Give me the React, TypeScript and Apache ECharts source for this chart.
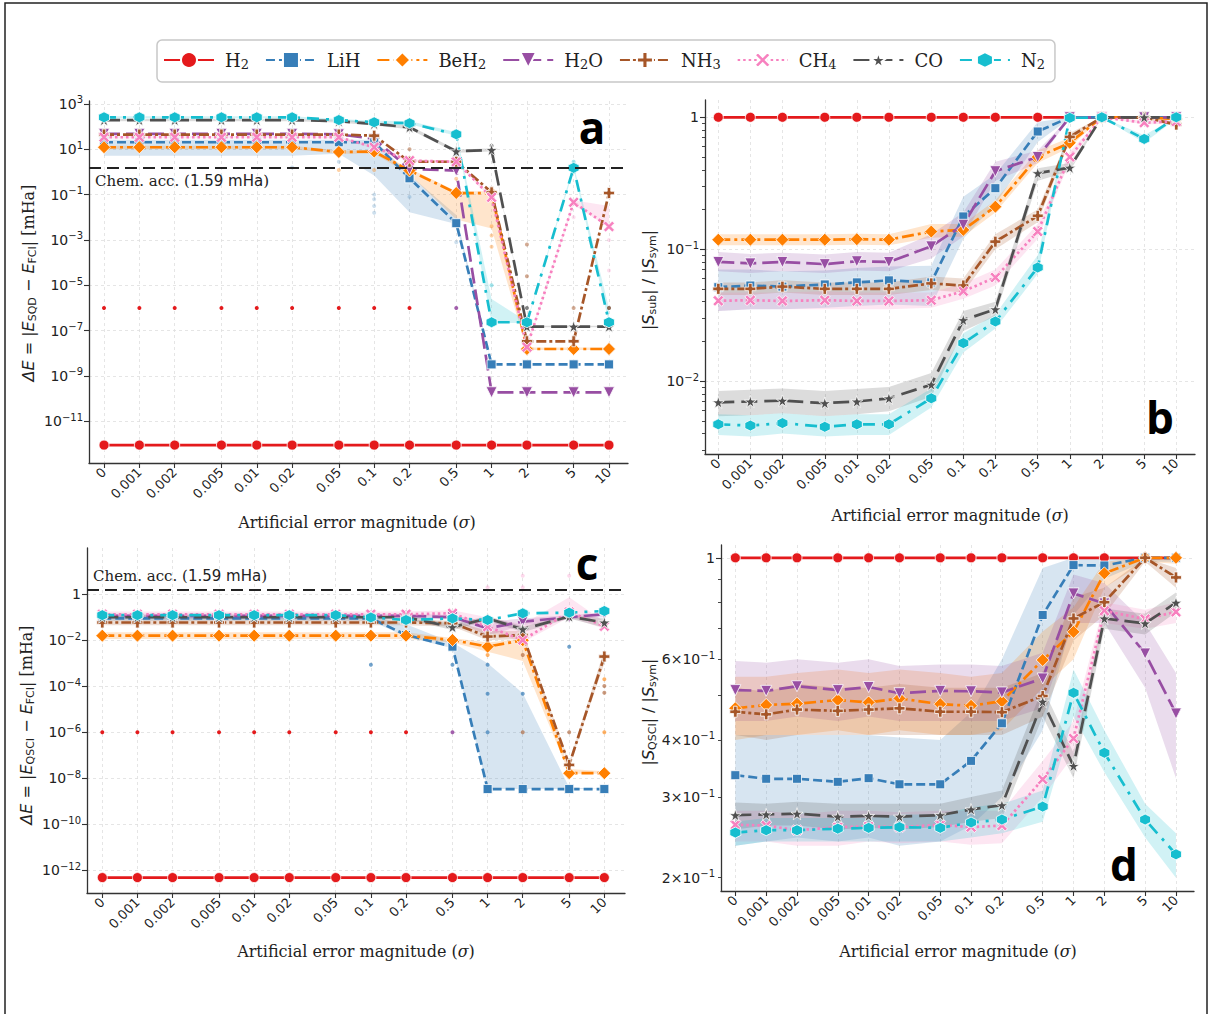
import React, { useEffect, useRef } from 'react';
import * as echarts from 'echarts';

// ---------- shared axis data ----------
const SIGMA = [0, 0.001, 0.002, 0.005, 0.01, 0.02, 0.05, 0.1, 0.2, 0.5, 1, 2, 5, 10];
const SIGMA_LABELS = ['0', '0.001', '0.002', '0.005', '0.01', '0.02', '0.05', '0.1', '0.2', '0.5', '1', '2', '5', '10'];
const MOLECULES = ['H2', 'LiH', 'BeH2', 'H2O', 'NH3', 'CH4', 'CO', 'N2'];
const CHEM_ACC = 1.59; // mHa
const ZERO_POS = 0.0005; // where sigma = 0 sits on the log-like x scale

// ---------- panel a : log10(ΔE_SQD / mHa) ----------
const aH2 = [-12.05, -12.05, -12.05, -12.05, -12.05, -12.05, -12.05, -12.05, -12.05, -12.05, -12.05, -12.05, -12.05, -12.05];
const aLiH = [1.31, 1.31, 1.31, 1.31, 1.31, 1.31, 1.31, 1.31, -0.28, -2.26, -8.49, -8.49, -8.49, -8.49];
const aBeH2 = [1.09, 1.09, 1.09, 1.09, 1.09, 1.09, 0.88, 0.9, 0.06, -0.93, -0.93, -7.81, -7.81, -7.81];
const aH2O = [1.68, 1.68, 1.68, 1.68, 1.68, 1.68, 1.66, 1.46, 0.13, 0.06, -9.72, -9.72, -9.72, -9.72];
const aNH3 = [1.65, 1.65, 1.65, 1.65, 1.65, 1.65, 1.65, 1.6, 0.45, 0.45, -0.9, -7.47, -7.47, -0.93];
const aCH4 = [1.53, 1.53, 1.53, 1.53, 1.53, 1.53, 1.53, 1.09, 0.5, 0.45, -1.12, -7.73, -1.34, -2.41];
const aCO = [2.29, 2.29, 2.29, 2.29, 2.29, 2.29, 2.24, 2.12, 1.97, 0.91, 0.97, -6.82, -6.82, -6.82];
const aN2 = [2.41, 2.41, 2.41, 2.41, 2.41, 2.41, 2.29, 2.19, 2.15, 1.66, -6.63, -6.63, 0.18, -6.63];

const aLiH_lo = [0.72, 0.72, 0.72, 0.72, 0.72, 0.72, 0.8, -0.16, -1.78, -2.3, -8.49, -8.49, -8.49, -8.49];
const aLiH_hi = [1.42, 1.42, 1.42, 1.42, 1.42, 1.42, 1.42, 1.42, -0.12, -1.9, -8.49, -8.49, -8.49, -8.49];
const aBeH2_lo = [1.0, 1.0, 1.0, 1.0, 1.0, 1.0, 0.8, 0.8, -0.1, -2.1, -2.5, -7.85, -7.85, -7.85];
const aBeH2_hi = [1.16, 1.16, 1.16, 1.16, 1.16, 1.16, 0.95, 0.95, 0.15, -0.85, -0.85, -7.75, -7.75, -7.75];
const aCH4_lo = [1.48, 1.48, 1.48, 1.48, 1.48, 1.48, 1.48, 1.03, 0.45, 0.4, -1.2, -7.8, -1.45, -2.45];
const aCH4_hi = [1.58, 1.58, 1.58, 1.58, 1.58, 1.58, 1.58, 1.15, 0.55, 0.5, -1.05, -7.65, -1.25, -1.5];
const aCO_lo = [2.24, 2.24, 2.24, 2.24, 2.24, 2.24, 2.18, 2.05, 1.88, 0.85, 0.9, -6.85, -6.85, -6.85];
const aCO_hi = [2.34, 2.34, 2.34, 2.34, 2.34, 2.34, 2.3, 2.2, 2.05, 0.98, 1.05, -6.78, -6.78, -6.78];
const aN2_lo = [2.36, 2.36, 2.36, 2.36, 2.36, 2.36, 2.25, 2.15, 2.1, 1.6, -6.66, -6.66, 0.1, -6.66];
const aN2_hi = [2.46, 2.46, 2.46, 2.46, 2.46, 2.46, 2.34, 2.26, 2.25, 1.75, -5.6, -6.6, 0.3, -6.0];

// individual runs, [sigma, log10 ΔE]
const aRunsH2 = [[0, -6], [0.001, -6], [0.002, -6], [0.005, -6], [0.01, -6], [0.02, -6], [0.05, -6], [0.1, -6], [0.2, -6]];
const aRunsH2O = [[0.5, -6]];
const aRunsCO = [[2, -6], [10, -6], [1, 1.16]];
const aRunsNH3 = [[5, -6], [10, -6], [2, -3.2], [2, -4.6], [0.2, 1.0]];
const aRunsLiH = [[0.1, -1.0], [0.1, -1.2], [0.1, -1.5], [0.1, -1.8], [0.2, -1.1], [0.5, -3.1], [0.05, 0.45], [0.02, 0.2]];
const aRunsBeH2 = [[0.05, 0.09], [0.1, 0.09], [1, -2.4], [1, -2.8], [1, -3.3], [0.5, -0.3]];
const aRunsCH4 = [[10, -4.35], [5, -2.0], [10, -3.0]];
const aRunsN2 = [[0.5, 0.8], [1, -5.0], [5, 0.45]];

// ---------- panel b : |S_sub| / |S_sym| ----------
const bH2 = [1, 1, 1, 1, 1, 1, 1, 1, 1, 1, 1, 1, 1, 1];
const bLiH = [0.0515, 0.053, 0.052, 0.054, 0.056, 0.058, 0.056, 0.177, 0.29, 0.78, 1, 1, 1, 1];
const bBeH2 = [0.118, 0.118, 0.118, 0.118, 0.119, 0.118, 0.136, 0.14, 0.21, 0.5, 0.64, 1, 1, 0.97];
const bH2O = [0.08, 0.078, 0.08, 0.077, 0.081, 0.08, 0.105, 0.153, 0.39, 0.5, 1, 1, 1, 1];
const bNH3 = [0.05, 0.05, 0.052, 0.05, 0.05, 0.05, 0.055, 0.053, 0.114, 0.179, 0.71, 1, 1, 0.88];
const bCH4 = [0.0406, 0.041, 0.0405, 0.041, 0.0405, 0.0405, 0.041, 0.048, 0.061, 0.136, 0.5, 1, 0.91, 0.93];
const bCO = [0.0069, 0.007, 0.0071, 0.0068, 0.007, 0.0074, 0.0094, 0.029, 0.035, 0.377, 0.415, 1, 1, 1];
const bN2 = [0.0047, 0.0046, 0.0048, 0.0045, 0.0047, 0.0047, 0.0074, 0.0194, 0.0283, 0.0726, 0.99, 1, 0.685, 1];

const bLiH_lo = [0.034, 0.035, 0.035, 0.036, 0.037, 0.038, 0.037, 0.12, 0.22, 0.65, 0.98, 1, 1, 1];
const bLiH_hi = [0.07, 0.07, 0.068, 0.069, 0.072, 0.074, 0.075, 0.25, 0.37, 0.92, 1, 1, 1, 1];
const bBeH2_lo = [0.107, 0.107, 0.107, 0.107, 0.108, 0.107, 0.122, 0.125, 0.19, 0.45, 0.59, 1, 1, 0.95];
const bBeH2_hi = [0.13, 0.13, 0.13, 0.13, 0.131, 0.13, 0.155, 0.155, 0.235, 0.56, 0.7, 1, 1, 1];
const bH2O_lo = [0.068, 0.066, 0.068, 0.066, 0.069, 0.068, 0.085, 0.125, 0.33, 0.45, 1, 1, 1, 1];
const bH2O_hi = [0.095, 0.092, 0.094, 0.091, 0.095, 0.094, 0.13, 0.19, 0.46, 0.56, 1, 1, 1, 1];
const bNH3_lo = [0.045, 0.045, 0.047, 0.045, 0.045, 0.045, 0.049, 0.047, 0.1, 0.16, 0.66, 1, 0.98, 0.85];
const bNH3_hi = [0.056, 0.056, 0.058, 0.056, 0.056, 0.056, 0.062, 0.06, 0.13, 0.2, 0.76, 1, 1, 0.92];
const bCH4_lo = [0.034, 0.035, 0.035, 0.035, 0.035, 0.035, 0.036, 0.042, 0.053, 0.12, 0.46, 1, 0.88, 0.9];
const bCH4_hi = [0.047, 0.047, 0.047, 0.048, 0.047, 0.047, 0.047, 0.055, 0.07, 0.155, 0.55, 1, 0.94, 0.96];
const bCO_lo = [0.0054, 0.0055, 0.0057, 0.0054, 0.0056, 0.0059, 0.0076, 0.024, 0.031, 0.33, 0.39, 1, 1, 1];
const bCO_hi = [0.0084, 0.0086, 0.0088, 0.0084, 0.0087, 0.009, 0.0115, 0.034, 0.04, 0.41, 0.45, 1, 1, 1];
const bN2_lo = [0.0039, 0.0038, 0.004, 0.0038, 0.0039, 0.0039, 0.0063, 0.0165, 0.025, 0.065, 0.97, 1, 0.64, 0.97];
const bN2_hi = [0.0056, 0.0055, 0.0057, 0.0054, 0.0056, 0.0056, 0.0088, 0.023, 0.032, 0.09, 1, 1, 0.73, 1];

// ---------- panel c : log10(ΔE_QSCI / mHa) ----------
const cH2 = [-12.32, -12.32, -12.32, -12.32, -12.32, -12.32, -12.32, -12.32, -12.32, -12.32, -12.32, -12.32, -12.32, -12.32];
const cLiH = [-1.05, -1.05, -1.05, -1.05, -1.05, -1.05, -1.05, -1.05, -1.77, -2.28, -8.47, -8.47, -8.47, -8.47];
const cBeH2 = [-1.8, -1.8, -1.8, -1.8, -1.8, -1.8, -1.8, -1.8, -1.8, -1.99, -2.28, -2.0, -7.78, -7.78];
const cH2O = [-0.94, -0.94, -0.94, -0.94, -0.94, -0.94, -0.94, -0.94, -0.94, -1.0, -1.48, -1.19, -1.0, -0.87];
const cNH3 = [-1.23, -1.23, -1.23, -1.23, -1.23, -1.23, -1.23, -1.23, -1.23, -1.26, -1.84, -1.77, -7.42, -2.71];
const cCH4 = [-0.87, -0.87, -0.87, -0.87, -0.87, -0.87, -0.87, -0.87, -0.87, -0.83, -1.41, -1.99, -0.77, -1.39];
const cCO = [-1.0, -1.0, -1.0, -1.0, -1.0, -1.0, -1.0, -1.0, -1.0, -1.43, -1.05, -1.52, -0.97, -1.23];
const cN2 = [-0.91, -0.91, -0.91, -0.91, -0.91, -0.91, -0.91, -1.01, -1.12, -1.05, -1.12, -0.83, -0.8, -0.73];

const cLiH_lo = [-1.15, -1.15, -1.15, -1.15, -1.15, -1.15, -1.15, -1.15, -1.85, -2.35, -8.47, -8.47, -8.47, -8.47];
const cLiH_hi = [-0.95, -0.95, -0.95, -0.95, -0.95, -0.95, -0.95, -0.95, -1.3, -2.1, -3.0, -4.3, -8.4, -8.47];
const cBeH2_lo = [-1.95, -1.95, -1.95, -1.95, -1.95, -1.95, -1.95, -1.95, -1.95, -2.1, -2.5, -2.9, -7.8, -7.8];
const cBeH2_hi = [-1.65, -1.65, -1.65, -1.65, -1.65, -1.65, -1.65, -1.65, -1.65, -1.9, -2.1, -1.95, -7.6, -7.7];
const cH2O_lo = [-1.05, -1.05, -1.05, -1.05, -1.05, -1.05, -1.05, -1.05, -1.05, -1.1, -1.8, -1.35, -1.1, -1.0];
const cH2O_hi = [-0.85, -0.85, -0.85, -0.85, -0.85, -0.85, -0.85, -0.85, -0.85, -0.9, -1.2, -1.05, -0.9, -0.8];
const cNH3_lo = [-1.35, -1.35, -1.35, -1.35, -1.35, -1.35, -1.35, -1.35, -1.35, -1.4, -2.0, -1.95, -7.5, -3.0];
const cNH3_hi = [-1.1, -1.1, -1.1, -1.1, -1.1, -1.1, -1.1, -1.1, -1.1, -1.15, -1.6, -1.6, -7.3, -2.4];
const cCH4_lo = [-1.0, -1.0, -1.0, -1.0, -1.0, -1.0, -1.0, -1.0, -1.0, -0.95, -1.6, -2.1, -1.0, -1.5];
const cCH4_hi = [-0.75, -0.75, -0.75, -0.75, -0.75, -0.75, -0.75, -0.75, -0.75, -0.7, -1.0, -1.3, -0.13, -1.2];
const cCO_lo = [-1.1, -1.1, -1.1, -1.1, -1.1, -1.1, -1.1, -1.1, -1.1, -1.55, -1.15, -1.65, -1.05, -1.45];
const cCO_hi = [-0.9, -0.9, -0.9, -0.9, -0.9, -0.9, -0.9, -0.9, -0.9, -1.3, -0.95, -1.4, -0.9, -1.05];

const cRunsH2 = [[0, -6], [0.001, -6], [0.002, -6], [0.005, -6], [0.01, -6], [0.02, -6], [0.05, -6], [0.1, -6], [0.2, -6]];
const cRunsH2O = [[0.5, -6]];
const cRunsLiH = [[1, -6], [1, -3.07], [1, -4.33], [2, -4.33], [5, -2.28], [0.5, -3.07], [0.1, -3.07]];
const cRunsNH3 = [[2, -6], [5, -6], [10, -3.99], [10, -4.28], [2, -2.64]];
const cRunsBeH2 = [[10, -6], [1, -2.64], [10, -3.7]];
const cRunsCH4 = [[2, 0.8], [5, 0.8], [1, 0.3], [2, 0.3]];

// ---------- panel d : |S_QSCI| / |S_sym| ----------
const dH2 = [1, 1, 1, 1, 1, 1, 1, 1, 1, 1, 1, 1, 1, 1];
const dLiH = [0.335, 0.329, 0.329, 0.324, 0.33, 0.32, 0.32, 0.36, 0.435, 0.75, 0.964, 0.962, 1, 1];
const dBeH2 = [0.469, 0.477, 0.48, 0.489, 0.483, 0.493, 0.479, 0.475, 0.486, 0.598, 0.689, 0.925, 1, 1];
const dH2O = [0.514, 0.512, 0.524, 0.514, 0.522, 0.506, 0.512, 0.511, 0.508, 0.545, 0.836, 0.795, 0.618, 0.457];
const dNH3 = [0.461, 0.455, 0.466, 0.463, 0.466, 0.469, 0.461, 0.461, 0.46, 0.499, 0.737, 0.8, 1, 0.906];
const dCH4 = [0.261, 0.26, 0.254, 0.258, 0.259, 0.258, 0.261, 0.258, 0.26, 0.328, 0.403, 0.766, 0.735, 0.762];
const dCO = [0.274, 0.275, 0.276, 0.272, 0.273, 0.272, 0.274, 0.282, 0.288, 0.485, 0.351, 0.737, 0.719, 0.798];
const dN2 = [0.251, 0.254, 0.254, 0.256, 0.257, 0.258, 0.257, 0.264, 0.268, 0.286, 0.507, 0.375, 0.268, 0.225];

const dLiH_lo = [0.235, 0.24, 0.245, 0.24, 0.245, 0.235, 0.24, 0.26, 0.3, 0.42, 0.75, 0.9, 0.98, 0.98];
const dLiH_hi = [0.41, 0.41, 0.41, 0.41, 0.41, 0.405, 0.4, 0.46, 0.6, 0.95, 1.0, 1.0, 1.0, 1.0];
const dBeH2_lo = [0.4, 0.41, 0.41, 0.42, 0.41, 0.42, 0.41, 0.41, 0.42, 0.52, 0.6, 0.86, 0.98, 0.97];
const dBeH2_hi = [0.55, 0.55, 0.56, 0.57, 0.56, 0.57, 0.56, 0.55, 0.56, 0.69, 0.78, 0.98, 1.0, 1.0];
const dH2O_lo = [0.44, 0.44, 0.45, 0.44, 0.45, 0.44, 0.44, 0.44, 0.44, 0.47, 0.72, 0.72, 0.52, 0.33];
const dH2O_hi = [0.595, 0.59, 0.6, 0.59, 0.6, 0.58, 0.585, 0.585, 0.58, 0.62, 0.92, 0.88, 0.72, 0.56];
const dNH3_lo = [0.41, 0.4, 0.41, 0.41, 0.41, 0.41, 0.41, 0.41, 0.41, 0.45, 0.66, 0.75, 0.98, 0.86];
const dNH3_hi = [0.52, 0.51, 0.53, 0.52, 0.52, 0.53, 0.52, 0.52, 0.52, 0.56, 0.82, 0.86, 1.0, 0.95];
const dCH4_lo = [0.24, 0.24, 0.235, 0.235, 0.24, 0.238, 0.24, 0.236, 0.238, 0.3, 0.37, 0.72, 0.7, 0.72];
const dCH4_hi = [0.28, 0.28, 0.275, 0.28, 0.28, 0.278, 0.28, 0.28, 0.28, 0.36, 0.44, 0.8, 0.77, 0.8];
const dCO_lo = [0.255, 0.26, 0.26, 0.255, 0.257, 0.255, 0.258, 0.265, 0.27, 0.45, 0.33, 0.7, 0.68, 0.76];
const dCO_hi = [0.292, 0.29, 0.293, 0.29, 0.29, 0.29, 0.29, 0.3, 0.31, 0.52, 0.375, 0.775, 0.755, 0.84];
const dN2_lo = [0.235, 0.24, 0.24, 0.24, 0.24, 0.24, 0.24, 0.245, 0.25, 0.265, 0.45, 0.34, 0.245, 0.2];
const dN2_hi = [0.265, 0.27, 0.27, 0.27, 0.27, 0.275, 0.275, 0.285, 0.29, 0.31, 0.57, 0.42, 0.29, 0.25];

// ---------- tick values ----------
const A_TICKS = [-11, -9, -7, -5, -3, -1, 1, 3]; // log10 exponents
const B_TICKS = [0.01, 0.1, 1];
const B_MINOR = [0.003, 0.004, 0.005, 0.006, 0.007, 0.008, 0.009, 0.02, 0.03, 0.04, 0.05, 0.06, 0.07, 0.08, 0.09, 0.2, 0.3, 0.4, 0.5, 0.6, 0.7, 0.8, 0.9];
const C_TICKS = [-12, -10, -8, -6, -4, -2, 0];
const D_TICKS = [1];
const D_MINOR = [0.2, 0.3, 0.4, 0.5, 0.6, 0.7, 0.8, 0.9];
const D_LABELS = [0.2, 0.3, 0.4, 0.6, 1];

// ---------- styles ----------
const PLUS = 'path://M3.4,0H6.6V3.4H10V6.6H6.6V10H3.4V6.6H0V3.4H3.4Z';
const XMARK = 'path://M0,2L2,0L5,3L8,0L10,2L7,5L10,8L8,10L5,7L2,10L0,8L3,5Z';
const STAR = 'path://M5,0L6.18,3.62L10,3.62L6.91,5.85L8.09,9.47L5,7.24L1.91,9.47L3.09,5.85L0,3.62L3.82,3.62Z';
const HEX = 'path://M5,0L9.33,2.5L9.33,7.5L5,10L0.67,7.5L0.67,2.5Z';

const STYLE: any = {
  H2: { color: '#e41a1c', symbol: 'circle', size: 10, rotate: 0, dash: 'solid' },
  LiH: { color: '#377eb8', symbol: 'rect', size: 9, rotate: 0, dash: [9, 4] },
  BeH2: { color: '#ff7f00', symbol: 'diamond', size: 13, rotate: 0, dash: [12, 4, 3, 4] },
  H2O: { color: '#984ea3', symbol: 'triangle', size: 11, rotate: 180, dash: [16, 6] },
  NH3: { color: '#a65628', symbol: PLUS, size: 11, rotate: 0, dash: [10, 3, 3, 3] },
  CH4: { color: '#f781bf', symbol: XMARK, size: 11, rotate: 0, dash: [2.5, 3] },
  CO: { color: '#505050', symbol: STAR, size: 12, rotate: 0, dash: [16, 7] },
  N2: { color: '#17becf', symbol: HEX, size: 11, rotate: 0, dash: [12, 7, 3, 7] },
};

const LAYOUT = [
  { grid: { left: 89, top: 101, width: 539, height: 362 }, x: [-3.429, 1.162], y: [-12.84, 3.13] },
  { grid: { left: 705, top: 100, width: 490, height: 354 }, x: [-3.426, 1.176], y: [-2.553, 0.131] },
  { grid: { left: 87, top: 548, width: 538, height: 345 }, x: [-3.432, 1.177], y: [-12.99, 2.01] },
  { grid: { left: 721, top: 545, width: 473, height: 346 }, x: [-3.441, 1.176], y: [-0.728, 0.028] },
];

const xPos = (s: number) => Math.log10(s === 0 ? ZERO_POS : s);
const ident = (v: number) => v;
const lg = (v: number) => Math.log10(v);

const sup = (n: number) => (n < 0 ? '\u2212' : '') + Math.abs(n);
const decadeLabel = (v: number) => {
  const n = Math.round(v);
  return n === 0 ? '1' : '10{e|' + sup(n) + '}';
};
const dLabel = (v: number) => {
  if (Math.abs(v) < 1e-6) return '1';
  const m = Math.round(Math.pow(10, v) * 10);
  return m + '\u00d710{e|\u22121}';
};
const xLabel = (v: number) => {
  for (let i = 0; i < SIGMA.length; i++) if (Math.abs(xPos(SIGMA[i]) - v) < 1e-6) return SIGMA_LABELS[i];
  return '';
};

function bandSeries(pi: number, mol: string, lo: number[], hi: number[], toY: (v: number) => number) {
  const upper = SIGMA.map((s, i) => [xPos(s), toY(hi[i])]);
  const lower = SIGMA.map((s, i) => [xPos(s), toY(lo[i])]);
  const color = STYLE[mol].color;
  return {
    type: 'custom', name: 'band', xAxisIndex: pi, yAxisIndex: pi, silent: true, z: 1, clip: true,
    data: [upper[0]],
    encode: { x: 0, y: 1 },
    renderItem: (_params: any, api: any) => {
      const pts = upper.map((p) => api.coord(p)).concat(lower.slice().reverse().map((p) => api.coord(p)));
      return { type: 'polygon', shape: { points: pts }, style: { fill: color, opacity: 0.2 } };
    },
  };
}

function buildOption() {
  const panels = [
    {
      toY: ident,
      main: { H2: aH2, LiH: aLiH, BeH2: aBeH2, H2O: aH2O, NH3: aNH3, CH4: aCH4, CO: aCO, N2: aN2 },
      bands: { LiH: [aLiH_lo, aLiH_hi], BeH2: [aBeH2_lo, aBeH2_hi], CH4: [aCH4_lo, aCH4_hi], CO: [aCO_lo, aCO_hi], N2: [aN2_lo, aN2_hi] },
      runs: [
        ['H2', aRunsH2, 1], ['H2O', aRunsH2O, 0.9], ['CO', aRunsCO, 0.7], ['NH3', aRunsNH3, 0.5],
        ['LiH', aRunsLiH, 0.25], ['BeH2', aRunsBeH2, 0.35], ['CH4', aRunsCH4, 0.25], ['N2', aRunsN2, 0.4],
      ],
      chem: 'insideStartBottom',
    },
    {
      toY: lg,
      main: { H2: bH2, LiH: bLiH, BeH2: bBeH2, H2O: bH2O, NH3: bNH3, CH4: bCH4, CO: bCO, N2: bN2 },
      bands: { LiH: [bLiH_lo, bLiH_hi], BeH2: [bBeH2_lo, bBeH2_hi], H2O: [bH2O_lo, bH2O_hi], NH3: [bNH3_lo, bNH3_hi], CH4: [bCH4_lo, bCH4_hi], CO: [bCO_lo, bCO_hi], N2: [bN2_lo, bN2_hi] },
      runs: [],
      chem: null,
    },
    {
      toY: ident,
      main: { H2: cH2, LiH: cLiH, BeH2: cBeH2, H2O: cH2O, NH3: cNH3, CH4: cCH4, CO: cCO, N2: cN2 },
      bands: { LiH: [cLiH_lo, cLiH_hi], BeH2: [cBeH2_lo, cBeH2_hi], H2O: [cH2O_lo, cH2O_hi], NH3: [cNH3_lo, cNH3_hi], CH4: [cCH4_lo, cCH4_hi], CO: [cCO_lo, cCO_hi] },
      runs: [
        ['H2', cRunsH2, 1], ['H2O', cRunsH2O, 0.9], ['LiH', cRunsLiH, 0.7], ['NH3', cRunsNH3, 0.6],
        ['BeH2', cRunsBeH2, 0.6], ['CH4', cRunsCH4, 0.3],
      ],
      chem: 'insideStartTop',
    },
    {
      toY: lg,
      main: { H2: dH2, LiH: dLiH, BeH2: dBeH2, H2O: dH2O, NH3: dNH3, CH4: dCH4, CO: dCO, N2: dN2 },
      bands: { LiH: [dLiH_lo, dLiH_hi], BeH2: [dBeH2_lo, dBeH2_hi], H2O: [dH2O_lo, dH2O_hi], NH3: [dNH3_lo, dNH3_hi], CH4: [dCH4_lo, dCH4_hi], CO: [dCO_lo, dCO_hi], N2: [dN2_lo, dN2_hi] },
      runs: [],
      chem: null,
    },
  ];

  const series: any[] = [];
  panels.forEach((p: any, pi) => {
    Object.keys(p.bands).forEach((mol) => {
      const [lo, hi] = p.bands[mol];
      series.push(bandSeries(pi, mol, lo, hi, p.toY));
    });
    p.runs.forEach(([mol, pts, op]: any) => {
      series.push({
        type: 'scatter', name: 'runs', xAxisIndex: pi, yAxisIndex: pi,
        data: pts.map(([s, v]: number[]) => [xPos(s), v]),
        symbolSize: 4, itemStyle: { color: STYLE[mol].color, opacity: op }, silent: true, z: 2,
      });
    });
    MOLECULES.forEach((mol) => {
      const st = STYLE[mol];
      const vals = p.main[mol];
      const s: any = {
        type: 'line', name: mol, xAxisIndex: pi, yAxisIndex: pi,
        data: SIGMA.map((sg, i) => [xPos(sg), p.toY(vals[i])]),
        symbol: st.symbol, symbolSize: st.size, symbolRotate: st.rotate,
        itemStyle: { color: st.color, borderColor: '#ffffff', borderWidth: 0.8 },
        lineStyle: { color: st.color, width: 2.7, type: st.dash },
        emphasis: { disabled: true }, z: 3,
      };
      if (mol === 'H2' && p.chem) {
        s.markLine = {
          silent: true, symbol: ['none', 'none'], animation: false,
          lineStyle: { color: '#222', type: [12, 6], width: 1.8 },
          label: {
            show: true, position: p.chem, distance: 6, color: '#222', fontSize: 15,
            fontFamily: 'DejaVu Serif',
            formatter: '{s|Chem. acc. (}{n|1.59 mHa}{s|)}',
            rich: { s: { fontFamily: 'DejaVu Serif', fontSize: 15, color: '#222' }, n: { fontFamily: 'DejaVu Sans', fontSize: 15, color: '#222' } },
          },
          data: [{ yAxis: Math.log10(CHEM_ACC) }],
        };
      }
      series.push(s);
    });
  });

  const gridLine = { color: '#dedede', type: [3, 3], width: 0.8 };
  const axisColor = '#333';
  const xTicks = SIGMA.map(xPos);

  const xAxis = LAYOUT.map((L, pi) => ({
    type: 'value', gridIndex: pi, min: L.x[0], max: L.x[1],
    axisLine: { show: true, onZero: false, lineStyle: { color: axisColor, width: 1.3 } },
    axisTick: { show: true, customValues: xTicks, length: 5, lineStyle: { color: axisColor, width: 1.1 } },
    axisLabel: { customValues: xTicks, formatter: xLabel, rotate: 45, fontSize: 13, color: '#222', margin: 7, fontFamily: 'DejaVu Sans' },
    splitLine: { show: true, customValues: xTicks, lineStyle: gridLine },
  }));

  const richE = { e: { fontSize: 10, padding: [0, 0, 8, 0], fontFamily: 'DejaVu Sans', color: '#222' } };
  const majorLog = [A_TICKS, B_TICKS.map(lg), C_TICKS, D_TICKS.map(lg)];
  const labelVals = [A_TICKS, B_TICKS.map(lg), C_TICKS, D_LABELS.map(lg)];
  const fmts = [decadeLabel, decadeLabel, decadeLabel, dLabel];

  const yAxis: any[] = LAYOUT.map((L, pi) => ({
    type: 'value', gridIndex: pi, min: L.y[0], max: L.y[1], position: 'left',
    axisLine: { show: true, onZero: false, lineStyle: { color: axisColor, width: 1.3 } },
    axisTick: { show: true, customValues: majorLog[pi], length: 5, lineStyle: { color: axisColor, width: 1.1 } },
    axisLabel: { customValues: labelVals[pi], formatter: fmts[pi], fontSize: 14, color: '#222', margin: 6, fontFamily: 'DejaVu Sans', rich: richE },
    splitLine: { show: true, customValues: majorLog[pi], lineStyle: gridLine },
  }));
  [[1, B_MINOR], [3, D_MINOR]].forEach(([pi, minor]: any) => {
    const L = LAYOUT[pi];
    yAxis.push({
      type: 'value', gridIndex: pi, min: L.y[0], max: L.y[1], position: 'left',
      axisLine: { show: false, onZero: false },
      axisTick: { show: true, customValues: minor.map(lg), length: 3, lineStyle: { color: axisColor, width: 0.9 } },
      axisLabel: { show: false },
      splitLine: { show: false },
    });
  });

  const serif = 'DejaVu Serif';
  const yName = (x: number, y: number, text: string) => ({
    type: 'text', x, y, rotation: Math.PI / 2,
    style: {
      text, fill: '#222', fontSize: 16, fontFamily: 'DejaVu Sans',
      align: 'center', verticalAlign: 'middle', textAlign: 'center', textVerticalAlign: 'middle',
      rich: {
        i: { fontStyle: 'italic', fontSize: 16, fontFamily: 'DejaVu Sans', fill: '#222' },
        s: { fontSize: 11, fontFamily: 'DejaVu Sans', padding: [8, 0, 0, 0], fill: '#222' },
        m: { fontSize: 16, fontFamily: serif, fill: '#222' },
      },
    },
  });
  const xName = (x: number, y: number) => ({
    type: 'text', x, y,
    style: {
      text: 'Artificial error magnitude ({i|\u03c3})', fill: '#222', fontSize: 16, fontFamily: serif,
      align: 'center', verticalAlign: 'middle', textAlign: 'center', textVerticalAlign: 'middle',
      rich: { i: { fontStyle: 'italic', fontSize: 16, fontFamily: serif, fill: '#222' } },
    },
  });
  const letter = (x: number, y: number, t: string) => ({
    type: 'text', x, y,
    style: {
      text: t, fill: '#000', fontSize: 44, fontWeight: 'bold', fontFamily: 'Open Sans',
      align: 'center', verticalAlign: 'middle', textAlign: 'center', textVerticalAlign: 'middle',
    },
  });

  return {
    animation: false,
    backgroundColor: '#ffffff',
    textStyle: { fontFamily: 'DejaVu Sans' },
    grid: LAYOUT.map((L) => ({ ...L.grid, containLabel: false, outerBoundsMode: 'none' })),
    xAxis,
    yAxis,
    legend: {
      data: MOLECULES,
      left: 157, top: 40,
      padding: [11, 10, 11, 6],
      itemWidth: 50, itemHeight: 20, itemGap: 16,
      borderColor: '#c8c8c8', borderWidth: 1.5, borderRadius: 5,
      selectedMode: false,
      formatter: (n: string) => n.replace(/(\d)/g, '{s|$1}'),
      textStyle: {
        fontFamily: serif, fontSize: 18, color: '#222', padding: [0, 0, 0, 6],
        rich: { s: { fontFamily: serif, fontSize: 13, padding: [9, 0, 0, 0], color: '#222' } },
      },
    },
    graphic: [
      { type: 'rect', shape: { x: 5, y: 3, width: 1202, height: 1040 }, style: { fill: 'none', stroke: '#222', lineWidth: 1.5 }, silent: true },
      letter(592, 127, 'a'),
      letter(1160, 417, 'b'),
      letter(587, 563, 'c'),
      letter(1124, 864, 'd'),
      yName(28, 283, '{i|\u0394E} = |{i|E}{s|SQD} \u2212 {i|E}{s|FCI}| {m|[mHa]}'),
      yName(648, 280, '|{i|S}{s|sub}| / |{i|S}{s|sym}|'),
      yName(26, 725, '{i|\u0394E} = |{i|E}{s|QSCI} \u2212 {i|E}{s|FCI}| {m|[mHa]}'),
      yName(648, 712, '|{i|S}{s|QSCI}| / |{i|S}{s|sym}|'),
      xName(357, 522),
      xName(950, 515),
      xName(356, 951),
      xName(958, 951),
    ],
    series,
  };
}

export default function App() {
  const ref = useRef<HTMLDivElement>(null);
  useEffect(() => {
    if (!ref.current) return;
    const chart = echarts.init(ref.current, null, { renderer: 'svg' });
    chart.setOption(buildOption() as any);
    return () => chart.dispose();
  }, []);
  return (
    <div
      ref={ref}
      style={{ position: 'absolute', left: 0, top: 0, width: 1208, height: 1014, background: '#fff' }}
    />
  );
}
